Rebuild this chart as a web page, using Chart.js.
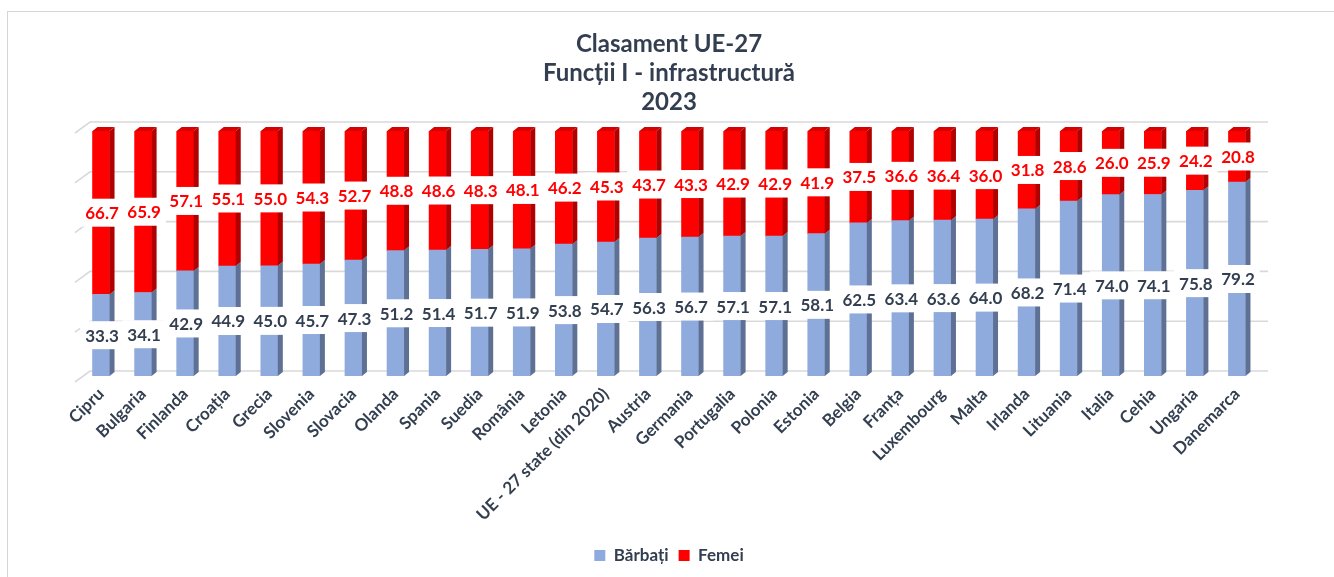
<!DOCTYPE html>
<html>
<head>
<meta charset="utf-8">
<script src="https://cdn.jsdelivr.net/npm/chart.js@4.4.1/dist/chart.umd.min.js"></script>
<style>
  html, body { margin: 0; padding: 0; background: #fff; overflow: hidden; }
  #frame { position: absolute; left: 7px; top: 11px; width: 1400px; height: 700px; border: 1.5px solid #D6D6D6; box-sizing: border-box; }
  #wrap { position: absolute; left: 0; top: 0; width: 1334px; height: 577px; }
</style>
</head>
<body>
<div id="frame"></div>
<div id="wrap"><canvas id="c" width="1334" height="577"></canvas></div>
<script>
const categories = ["Cipru","Bulgaria","Finlanda","Croația","Grecia","Slovenia","Slovacia","Olanda","Spania","Suedia","România","Letonia","UE - 27 state (din 2020)","Austria","Germania","Portugalia","Polonia","Estonia","Belgia","Franța","Luxembourg","Malta","Irlanda","Lituania","Italia","Cehia","Ungaria","Danemarca"];
const barbati = [33.3,34.1,42.9,44.9,45.0,45.7,47.3,51.2,51.4,51.7,51.9,53.8,54.7,56.3,56.7,57.1,57.1,58.1,62.5,63.4,63.6,64.0,68.2,71.4,74.0,74.1,75.8,79.2];
const femei = [66.7,65.9,57.1,55.1,55.0,54.3,52.7,48.8,48.6,48.3,48.1,46.2,45.3,43.7,43.3,42.9,42.9,41.9,37.5,36.6,36.4,36.0,31.8,28.6,26.0,25.9,24.2,20.8];
const gridValues = [0,20,40,60,80,100];
const titleLines = ["Clasament UE-27","Funcții I - infrastructură","2023"];

const DARK = "#333F50";
const FONT = "Lato, 'Open Sans', sans-serif";
const DX = 5, DY = 4;

const wallPlugin = {
  id: 'wall',
  beforeDatasetsDraw(chart) {
    const {ctx, chartArea: a, scales: {y}} = chart;
    ctx.save();
    ctx.strokeStyle = "#D9D9D9";
    ctx.lineWidth = 1.6;
    gridValues.forEach(v => {
      const py = y.getPixelForValue(v) - 5 - 4 * v / 100;
      ctx.beginPath();
      ctx.moveTo(a.left - 5, py + 11);
      ctx.lineTo(a.left + 10, py);
      ctx.lineTo(a.right + 10, py);
      ctx.stroke();
    });
    ctx.restore();
  }
};

const bar3dPlugin = {
  id: 'bar3d',
  afterDatasetsDraw(chart) {
    const {ctx} = chart;
    ctx.save();
    const sideColors = ["#5E7194", "#B00000"];
    const topColors = ["#7F98C6", "#D60000"];
    const n = chart.data.datasets.length;
    chart.data.datasets.forEach((ds, di) => {
      const meta = chart.getDatasetMeta(di);
      meta.data.forEach(el => {
        const {x, y, base, width} = el.getProps(['x','y','base','width'], true);
        const r = x + width / 2, l = x - width / 2;
        ctx.fillStyle = sideColors[di];
        ctx.beginPath();
        ctx.moveTo(r, y);
        ctx.lineTo(r + DX, y - DY);
        ctx.lineTo(r + DX, base - DY);
        ctx.lineTo(r, base);
        ctx.closePath();
        ctx.fill();
        if (di === n - 1) {
          ctx.fillStyle = topColors[di];
          ctx.beginPath();
          ctx.moveTo(l, y);
          ctx.lineTo(l + DX, y - DY);
          ctx.lineTo(r + DX, y - DY);
          ctx.lineTo(r, y);
          ctx.closePath();
          ctx.fill();
        }
      });
    });
    ctx.restore();
  }
};

const labelPlugin = {
  id: 'vlabels',
  afterDatasetsDraw(chart) {
    const {ctx} = chart;
    ctx.save();
    ctx.font = "bold 17px " + FONT;
    ctx.textAlign = "center";
    ctx.textBaseline = "middle";
    const colors = [DARK, "#FF0000"];
    chart.data.datasets.forEach((ds, di) => {
      const meta = chart.getDatasetMeta(di);
      meta.data.forEach((el, i) => {
        const {x, y, base} = el.getProps(['x','y','base'], true);
        const cy = (y + base) / 2;
        const txt = ds.data[i].toFixed(1);
        const w = ctx.measureText(txt).width + 10;
        ctx.fillStyle = "#FFFFFF";
        ctx.fillRect(x + 1 - w / 2, cy - 14, w, 28);
        ctx.fillStyle = colors[di];
        ctx.fillText(txt, x + 1, cy + 1);
      });
    });
    ctx.restore();
  }
};

new Chart(document.getElementById('c'), {
  type: 'bar',
  data: {
    labels: categories,
    datasets: [
      { label: "Bărbați", data: barbati, backgroundColor: "#8FAADC", borderWidth: 0, barThickness: 17 },
      { label: "Femei", data: femei, backgroundColor: "#FF0000", borderWidth: 0, barThickness: 17 }
    ]
  },
  options: {
    responsive: false,
    animation: false,
    layout: { padding: { left: 80, right: 76, top: 0, bottom: 3 } },
    scales: {
      x: {
        stacked: true,
        grid: { display: false, drawTicks: false },
        border: { display: false },
        ticks: {
          autoSkip: false, maxRotation: 45, minRotation: 45,
          color: DARK, font: { family: FONT, size: 17, weight: 'bold' }, padding: 8
        },
        afterFit(s) { s.height = 161; }
      },
      y: {
        stacked: true, min: 0, max: 100, display: false
      }
    },
    plugins: {
      title: {
        display: true, text: titleLines, color: DARK,
        font: { family: FONT, size: 24, weight: 'bold', lineHeight: 29 / 24 },
        padding: { top: 30, bottom: 14 }
      },
      legend: {
        position: 'bottom',
        labels: { boxWidth: 11, boxHeight: 11, padding: 10, color: DARK, font: { family: FONT, size: 17, weight: 'bold' } }
      },
      tooltip: { enabled: false }
    }
  },
  plugins: [wallPlugin, bar3dPlugin, labelPlugin]
});
</script>
</body>
</html>
